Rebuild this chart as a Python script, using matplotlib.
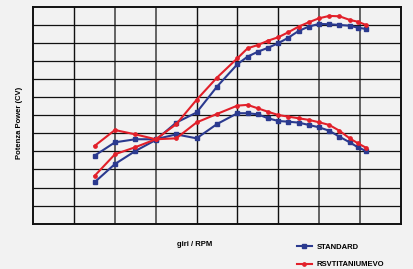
import matplotlib
matplotlib.use("Agg")
import matplotlib.pyplot as plt

rpm = [1.5, 2.0, 2.5, 3.0, 3.5, 4.0, 4.5, 5.0, 5.25, 5.5, 5.75, 6.0, 6.25, 6.5,
       6.75, 7.0, 7.25, 7.5, 7.75, 7.95, 8.15]

standard_power = [2.29, 3.30, 4.02, 4.63, 5.59, 6.15, 7.58, 8.82, 9.24, 9.51, 9.73,
                  9.98, 10.29, 10.66, 10.90, 11.05, 11.03, 10.99, 10.95, 10.84, 10.77]
evo_power = [2.64, 3.84, 4.23, 4.67, 5.50, 6.85, 8.08, 9.15, 9.70, 9.88, 10.12,
             10.31, 10.59, 10.90, 11.14, 11.36, 11.49, 11.47, 11.27, 11.17, 10.99]
standard_torque = [3.76, 4.50, 4.67, 4.67, 4.94, 4.72, 5.51, 6.11, 6.11, 6.05, 5.83,
                   5.68, 5.64, 5.59, 5.46, 5.33, 5.14, 4.81, 4.50, 4.23, 4.02]
evo_torque = [4.30, 5.18, 4.94, 4.67, 4.72, 5.60, 6.07, 6.53, 6.57, 6.38, 6.19,
              6.01, 5.92, 5.83, 5.74, 5.61, 5.46, 5.14, 4.72, 4.45, 4.20]

labels = ["STANDARD", "RSVTITANIUMEVO"]
xlabel = "giri / RPM"
ylabel = "Potenza Power (CV)"

blue = "#2b3a8f"
red = "#e2202a"
bg = "#f2f2f2"

fig = plt.figure(figsize=(4.14, 2.69), dpi=100, facecolor=bg)
ax = fig.add_axes([33.3 / 414, 1 - 223.7 / 269, (400.7 - 33.3) / 414, (223.7 - 6.7) / 269])
ax.set_facecolor(bg)
ax.set_xlim(0, 9)
ax.set_ylim(0, 12)
ax.set_xticks([])
ax.set_yticks([])

gray_v = {2, 3, 7, 8}
for i in range(1, 9):
    ax.axvline(i, color="#4a4a4a" if i in gray_v else "#111111",
               lw=1.2 if i in gray_v else 1.0, zorder=1)
for j in range(1, 12):
    ax.axhline(j, color="#111111", lw=0.9, zorder=1)
for s in ax.spines.values():
    s.set_color("#111111")
    s.set_linewidth(1.4)

kw = dict(lw=1.5, markersize=2.4, zorder=3)
ax.plot(rpm, standard_power, color=blue, marker="s", label=labels[0], **kw)
ax.plot(rpm, standard_torque, color=blue, marker="s", **kw)
ax.plot(rpm, evo_power, color=red, marker="o", label=labels[1], **kw)
ax.plot(rpm, evo_torque, color=red, marker="o", **kw)

fig.text(195 / 414, 1 - 245 / 269, xlabel, ha="center", va="center",
         fontsize=5.5, fontweight="bold", family="Liberation Sans")
fig.text(20 / 414, 1 - 123 / 269, ylabel, ha="center", va="center", rotation=90,
         fontsize=5.5, fontweight="bold", family="Liberation Sans")

leg = fig.legend(loc="upper left", bbox_to_anchor=(293 / 414, 1 - 240 / 269),
                 frameon=False, prop={"size": 5.5, "weight": "bold", "family": "Liberation Sans"},
                 handlelength=2.0, labelspacing=1.3, handletextpad=0.6, borderpad=0)

fig.savefig("out.png", dpi=100, facecolor=bg)
